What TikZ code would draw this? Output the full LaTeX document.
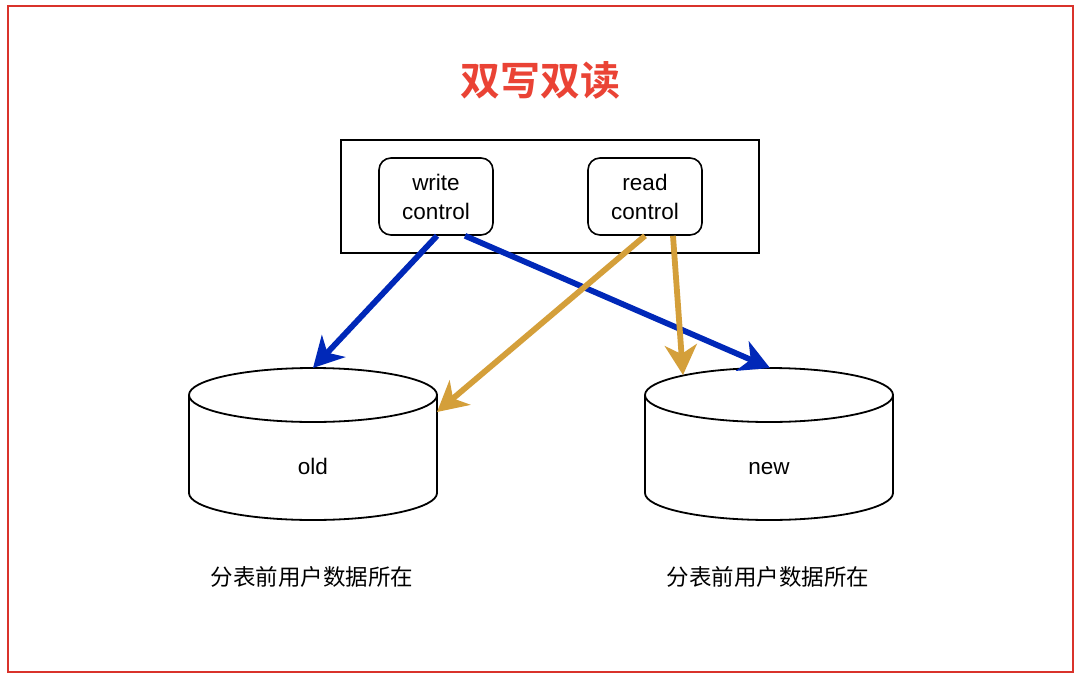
\documentclass[tikz,border=0pt]{standalone}
\usepackage{fontspec}
\setmainfont{Liberation Sans}
\newfontfamily\cjk{Noto Sans CJK SC}
\newfontfamily\cjkbold{Noto Sans CJK SC Bold}
\usetikzlibrary{arrows.meta}
\definecolor{framered}{HTML}{D9332B}
\definecolor{titlered}{HTML}{EA4335}
\definecolor{wblue}{HTML}{0028B8}
\definecolor{rgold}{HTML}{D49F3A}
\tikzset{
  ctrl/.style={draw, line width=1.6pt, rounded corners=12pt, minimum width=114pt, minimum height=77pt, align=center, font=\fontsize{22.5}{29}\selectfont, inner sep=0pt},
  cyl/.style={draw, line width=1.8pt, fill=white},
  lbl/.style={font=\fontsize{22.5}{26}\selectfont, anchor=base},
  captxt/.style={font=\cjk\fontsize{22.5}{26}\selectfont},
  warrow/.style={draw=wblue, line width=5.8pt, -{Stealth[length=30pt, width=32pt, inset=9pt]}},
  rarrow/.style={draw=rgold, line width=5.8pt, -{Stealth[length=30pt, width=32pt, inset=9pt]}},
}
\begin{document}
\begin{tikzpicture}[x=1pt,y=-1pt]
\useasboundingbox[fill=white] (0,0) rectangle (1080,681);
\draw[framered, line width=2.2pt] (8,6) rectangle (1073,672);
\node[text=titlered, font=\cjkbold\fontsize{40}{44}\selectfont] (title) at (540,80) {双写双读};
\node[draw, line width=1.8pt, minimum width=418pt, minimum height=113pt] (outer) at (550,196.5) {};
\node[ctrl] (wc) at (436,196.5) {write\\control};
\node[ctrl] (rc) at (645,196.5) {read\\control};
% cylinders
\draw[cyl] (189,395) -- (189,493) arc[start angle=180, end angle=360, x radius=124pt, y radius=27pt] -- (437,395);
\draw[cyl] (313,395) ellipse [x radius=124pt, y radius=27pt];
\draw[cyl] (645,395) -- (645,493) arc[start angle=180, end angle=360, x radius=124pt, y radius=27pt] -- (893,395);
\draw[cyl] (769,395) ellipse [x radius=124pt, y radius=27pt];
\node[lbl] (old) at (313,474) {old};
\node[lbl] (new) at (769,474) {new};
\node[captxt] (capold) at (312,577) {分表前用户数据所在};
\node[captxt] (capnew) at (768,577) {分表前用户数据所在};
\coordinate (oldtop) at (313,368);
\coordinate (oldright) at (437,412);
\coordinate (newtop) at (770,368);
\coordinate (newleft) at (683,375);
\draw[warrow] ([xshift=1pt]wc.south) -- (oldtop);
\draw[warrow] ([xshift=29pt]wc.south) -- (newtop);
\draw[rarrow] (rc.south) -- (oldright);
\draw[rarrow] ([xshift=28pt]rc.south) -- (newleft);
\end{tikzpicture}
\end{document}
